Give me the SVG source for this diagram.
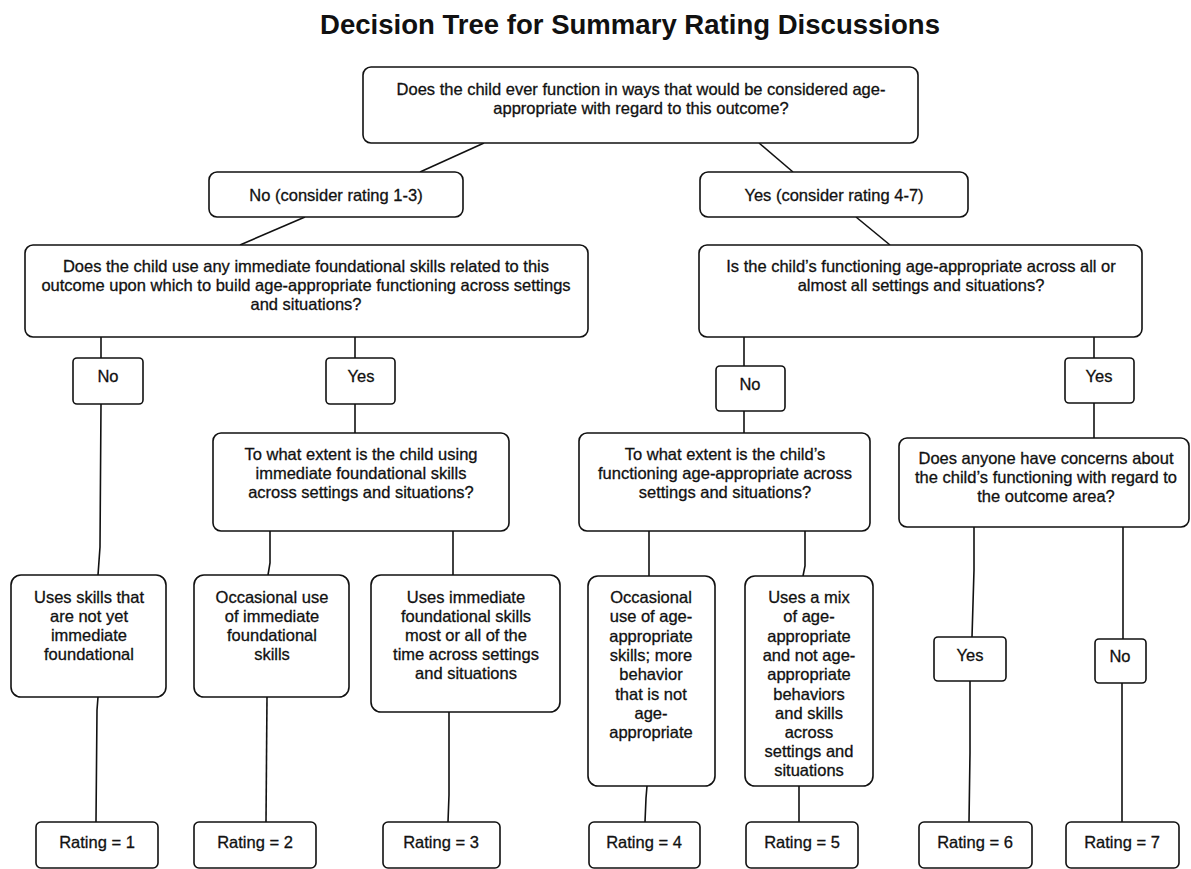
<svg xmlns="http://www.w3.org/2000/svg" width="1191" height="869" viewBox="0 0 1191 869">
<style>
.b{fill:#fff;stroke:#111;stroke-width:1.6}
.t{font-family:"Liberation Sans",Arial,sans-serif;font-size:16.5px;fill:#111;stroke:#111;stroke-width:0.3;text-anchor:middle}
.c{fill:none;stroke:#111;stroke-width:1.6}
.title{font-family:"Liberation Sans",Arial,sans-serif;font-size:28px;font-weight:bold;fill:#111;text-anchor:middle}
</style>
<rect width="1191" height="869" fill="#fff"/>
<text class="title" x="630" y="34" textLength="620" lengthAdjust="spacingAndGlyphs">Decision Tree for Summary Rating Discussions</text>
<g id="connectors">
<path class="c" d="M484,143 L420,172"/>
<path class="c" d="M759,143 L793,172"/>
<path class="c" d="M305,217 L240,245"/>
<path class="c" d="M856,217 L890,245"/>
<path class="c" d="M101,337 V358"/>
<path class="c" d="M355,337 V358"/>
<path class="c" d="M744,337 V366"/>
<path class="c" d="M1094,337 V358"/>
<path class="c" d="M101,404 L100,547 L98,575"/>
<path class="c" d="M355,404 V433"/>
<path class="c" d="M744,411 V433"/>
<path class="c" d="M1094,403 V438"/>
<path class="c" d="M270,531 L270,563 L268,575"/>
<path class="c" d="M453,531 V575"/>
<path class="c" d="M649,531 V576"/>
<path class="c" d="M805,531 L805,566 L803,576"/>
<path class="c" d="M974,527 L974,570 L972,637"/>
<path class="c" d="M1123,527 V639"/>
<path class="c" d="M970,681 L970,753 L969,822"/>
<path class="c" d="M1122,683 V822"/>
<path class="c" d="M98,697 L97,710 L96,822"/>
<path class="c" d="M267,697 L266,822"/>
<path class="c" d="M449,712 L449,795 L448,822"/>
<path class="c" d="M647,786 L646,798 L645,822"/>
<path class="c" d="M799,786 V822"/>
</g>
<g id="n_top"><rect class="b" x="363" y="67" width="555" height="76" rx="8"/>
<text class="t" x="641" y="95">Does the child ever function in ways that would be considered age-</text>
<text class="t" x="641" y="114">appropriate with regard to this outcome?</text></g>
<g id="n_no13"><rect class="b" x="209" y="172" width="254" height="45" rx="8"/>
<text class="t" x="336" y="201">No (consider rating 1-3)</text></g>
<g id="n_yes47"><rect class="b" x="700" y="172" width="268" height="45" rx="8"/>
<text class="t" x="834" y="201">Yes (consider rating 4-7)</text></g>
<g id="n_qL"><rect class="b" x="25" y="245" width="563" height="92" rx="8"/>
<text class="t" x="306" y="272">Does the child use any immediate foundational skills related to this</text>
<text class="t" x="306" y="291">outcome upon which to build age-appropriate functioning across settings</text>
<text class="t" x="306" y="310">and situations?</text></g>
<g id="n_qR"><rect class="b" x="699" y="245" width="443" height="92" rx="8"/>
<text class="t" x="921" y="272">Is the child’s functioning age-appropriate across all or</text>
<text class="t" x="921" y="291">almost all settings and situations?</text></g>
<g id="n_noL"><rect class="b" x="73" y="358" width="70" height="46" rx="4"/>
<text class="t" x="108" y="382">No</text></g>
<g id="n_yesL"><rect class="b" x="326" y="358" width="69" height="46" rx="4"/>
<text class="t" x="361" y="382">Yes</text></g>
<g id="n_noR"><rect class="b" x="716" y="366" width="69" height="45" rx="4"/>
<text class="t" x="750" y="390">No</text></g>
<g id="n_yesR"><rect class="b" x="1065" y="358" width="69" height="45" rx="4"/>
<text class="t" x="1099" y="382">Yes</text></g>
<g id="n_tweL"><rect class="b" x="213" y="433" width="296" height="98" rx="8"/>
<text class="t" x="361" y="460">To what extent is the child using</text>
<text class="t" x="361" y="479">immediate foundational skills</text>
<text class="t" x="361" y="498">across settings and situations?</text></g>
<g id="n_tweR"><rect class="b" x="579" y="433" width="291" height="98" rx="8"/>
<text class="t" x="725" y="460">To what extent is the child’s</text>
<text class="t" x="725" y="479">functioning age-appropriate across</text>
<text class="t" x="725" y="498">settings and situations?</text></g>
<g id="n_concerns"><rect class="b" x="899" y="438" width="290" height="89" rx="8"/>
<text class="t" x="1046" y="464">Does anyone have concerns about</text>
<text class="t" x="1046" y="483">the child’s functioning with regard to</text>
<text class="t" x="1046" y="502">the outcome area?</text></g>
<g id="n_usesSkills"><rect class="b" x="11" y="575" width="155" height="122" rx="10"/>
<text class="t" x="89" y="603">Uses skills that</text>
<text class="t" x="89" y="622">are not yet</text>
<text class="t" x="89" y="641">immediate</text>
<text class="t" x="89" y="660">foundational</text></g>
<g id="n_occImm"><rect class="b" x="194" y="575" width="155" height="122" rx="10"/>
<text class="t" x="272" y="603">Occasional use</text>
<text class="t" x="272" y="622">of immediate</text>
<text class="t" x="272" y="641">foundational</text>
<text class="t" x="272" y="660">skills</text></g>
<g id="n_usesImm"><rect class="b" x="371" y="575" width="189" height="137" rx="10"/>
<text class="t" x="466" y="603">Uses immediate</text>
<text class="t" x="466" y="622">foundational skills</text>
<text class="t" x="466" y="641">most or all of the</text>
<text class="t" x="466" y="660">time across settings</text>
<text class="t" x="466" y="679">and situations</text></g>
<g id="n_occAge"><rect class="b" x="588" y="576" width="127" height="210" rx="10"/>
<text class="t" x="651" y="603">Occasional</text>
<text class="t" x="651" y="622">use of age-</text>
<text class="t" x="651" y="642">appropriate</text>
<text class="t" x="651" y="661">skills; more</text>
<text class="t" x="651" y="680">behavior</text>
<text class="t" x="651" y="700">that is not</text>
<text class="t" x="651" y="719">age-</text>
<text class="t" x="651" y="738">appropriate</text></g>
<g id="n_mix"><rect class="b" x="745" y="576" width="128" height="210" rx="10"/>
<text class="t" x="809" y="603">Uses a mix</text>
<text class="t" x="809" y="622">of age-</text>
<text class="t" x="809" y="642">appropriate</text>
<text class="t" x="809" y="661">and not age-</text>
<text class="t" x="809" y="680">appropriate</text>
<text class="t" x="809" y="700">behaviors</text>
<text class="t" x="809" y="719">and skills</text>
<text class="t" x="809" y="738">across</text>
<text class="t" x="809" y="757">settings and</text>
<text class="t" x="809" y="776">situations</text></g>
<g id="n_yesLow"><rect class="b" x="934" y="637" width="72" height="44" rx="4"/>
<text class="t" x="970" y="661">Yes</text></g>
<g id="n_noLow"><rect class="b" x="1095" y="639" width="51" height="44" rx="4"/>
<text class="t" x="1120" y="662">No</text></g>
<g id="n_r1"><rect class="b" x="36" y="822" width="122" height="46" rx="5"/><text class="t" x="97" y="848">Rating = 1</text></g>
<g id="n_r2"><rect class="b" x="194" y="822" width="122" height="46" rx="5"/><text class="t" x="255" y="848">Rating = 2</text></g>
<g id="n_r3"><rect class="b" x="383" y="822" width="117" height="46" rx="5"/><text class="t" x="441" y="848">Rating = 3</text></g>
<g id="n_r4"><rect class="b" x="589" y="822" width="111" height="46" rx="5"/><text class="t" x="644" y="848">Rating = 4</text></g>
<g id="n_r5"><rect class="b" x="746" y="822" width="112" height="46" rx="5"/><text class="t" x="802" y="848">Rating = 5</text></g>
<g id="n_r6"><rect class="b" x="919" y="822" width="113" height="46" rx="5"/><text class="t" x="975" y="848">Rating = 6</text></g>
<g id="n_r7"><rect class="b" x="1066" y="822" width="113" height="46" rx="5"/><text class="t" x="1122" y="848">Rating = 7</text></g>
</svg>
